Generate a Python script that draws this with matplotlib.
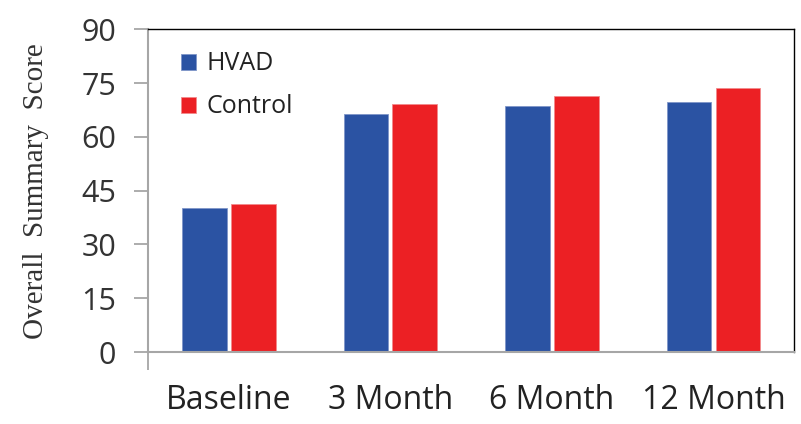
import numpy as np
import matplotlib
matplotlib.use("Agg")
import matplotlib.pyplot as plt

categories = ["Baseline", "3 Month", "6 Month", "12 Month"]
hvad = [40.1, 66.5, 68.7, 69.8]
control = [41.2, 69.3, 71.4, 73.5]
y_ticks = [0, 15, 30, 45, 60, 75, 90]

blue = "#2B53A3"
red = "#EC2024"
gray = "#A6A6A6"

fig = plt.figure(figsize=(8.01, 4.24), dpi=100)
ax = fig.add_axes([0.1848, 0.1698, 0.8068, 0.7611])

x = np.arange(len(categories))
w = 0.277
gap = 0.013
ax.bar(x - w / 2 - gap, hvad, w, color=blue, edgecolor="#7F96C8", linewidth=0.6, label="HVAD")
ax.bar(x + w / 2 + gap, control, w, color=red, edgecolor="#F28A8C", linewidth=0.6, label="Control")

ax.set_xlim(-0.5, 3.5)
ax.set_ylim(0, 90)
ax.set_yticks(y_ticks)
ax.set_xticks(x)
ax.set_xticklabels(categories)

tick_font = "Open Sans"
ax.tick_params(axis="y", length=10, width=1.3, color=gray, pad=13,
               labelsize=22, labelcolor="#333333")
ax.tick_params(axis="x", length=0, pad=23, labelsize=23, labelcolor="#222222")
for lab in ax.get_xticklabels() + ax.get_yticklabels():
    lab.set_fontfamily(tick_font)
ax.set_xticks([-0.5], minor=True)
ax.tick_params(axis="x", which="minor", length=13, width=1.3, color=gray)

for side in ["left", "bottom"]:
    ax.spines[side].set_color(gray)
    ax.spines[side].set_linewidth(1.5)
for side in ["top", "right"]:
    ax.spines[side].set_color("black")
    ax.spines[side].set_linewidth(1.0)

ax.set_ylabel("Overall  Summary  Score", family="Liberation Serif", fontsize=21,
              color="#333333", labelpad=23)

leg = ax.legend(loc="upper left", bbox_to_anchor=(0.032, 0.97), frameon=False,
                borderpad=0, handlelength=0.6, handleheight=0.6, handletextpad=0.4,
                labelspacing=0.72, prop={"family": tick_font, "size": 18})
for t in leg.get_texts():
    t.set_color("#222222")

fig.savefig("out.png", dpi=100)
